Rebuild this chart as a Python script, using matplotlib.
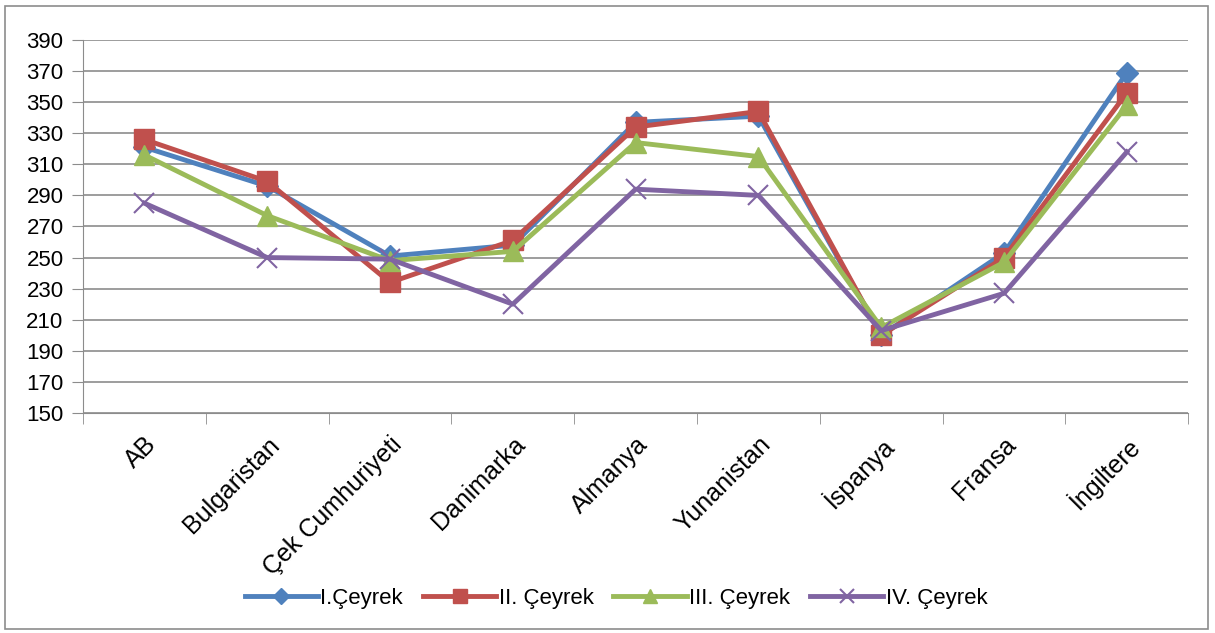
import matplotlib
matplotlib.use("Agg")
from matplotlib import pyplot as plt
from matplotlib.patches import Rectangle

plt.rcParams['font.family'] = ['Liberation Sans', 'DejaVu Sans']

categories = ["AB", "Bulgaristan", "Çek Cumhuriyeti", "Danimarka", "Almanya",
              "Yunanistan", "İspanya", "Fransa", "İngiltere"]
q1 = [321, 296, 251, 258, 337, 341, 200, 253, 369]
q2 = [326, 299, 234, 261, 334, 344, 200, 250, 356]
q3 = [316, 277, 248, 254, 324, 315, 205, 247, 348]
q4 = [285, 250, 249, 220, 294, 290, 203, 227, 318]
labels = ["I.Çeyrek", "II. Çeyrek", "III. Çeyrek", "IV. Çeyrek"]
yticks = list(range(150, 391, 20))

fig = plt.figure(figsize=(12.15, 6.33), dpi=100)
ax = fig.add_axes([0.0683, 0.3476, 0.9097, 0.5892])

x = range(len(categories))
ax.plot(x, q1, color="#4F81BD", lw=3.5, marker="D", ms=11, label=labels[0])
ax.plot(x, q2, color="#C0504D", lw=3.5, marker="s", ms=14, label=labels[1])
ax.plot(x, q3, color="#9BBB59", lw=3.5, marker="^", ms=15, label=labels[2])
ax.plot(x, q4, color="#8064A2", lw=3.5, marker="x", ms=15, mew=1.5, label=labels[3])

ax.set_ylim(150, 390)
ax.set_yticks(yticks)
ax.set_xlim(-0.5, len(categories) - 0.5)
ax.yaxis.grid(True, color="#8C8C8C", lw=1.2)
ax.set_axisbelow(True)

# kategori isimleri
ax.set_xticks(list(x))
ax.set_xticklabels(categories, rotation=45, ha="right", rotation_mode="anchor", fontsize=18)
ax.tick_params(axis="x", length=0, pad=14)
# Excel tarzi ara tick'ler
ax.set_xticks([i - 0.5 for i in range(len(categories) + 1)], minor=True)
ax.tick_params(axis="x", which="minor", length=8, color="#8C8C8C", direction="out")
ax.tick_params(axis="y", length=8, color="#8C8C8C", labelsize=16, pad=6)

for s in ["top", "right"]:
    ax.spines[s].set_visible(False)
ax.spines["left"].set_color("#8C8C8C")
ax.spines["bottom"].set_color("#8C8C8C")

fig.legend(loc="center", bbox_to_anchor=(0.507, 0.055), ncol=4, frameon=False,
           fontsize=16, handlelength=3.3, handletextpad=0.1, columnspacing=0.9,
           markerscale=0.7)

fig.patches.append(Rectangle((0.004, 0.006), 0.99, 0.985, transform=fig.transFigure,
                             fill=False, edgecolor="#8C8C8C", lw=1.2))

fig.savefig("out.png", dpi=100)
